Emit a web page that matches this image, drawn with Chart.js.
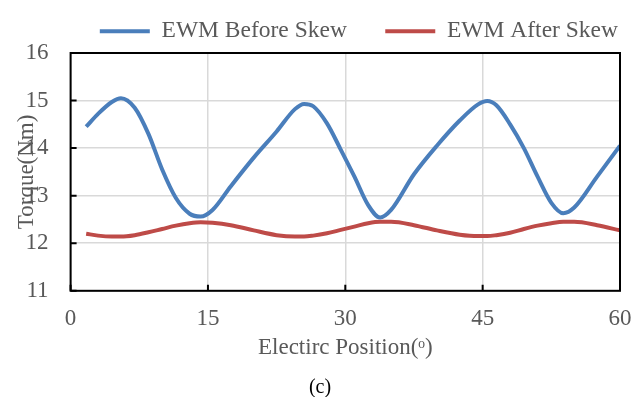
<!DOCTYPE html>
<html>
<head>
<meta charset="utf-8">
<script src="https://cdn.jsdelivr.net/npm/chart.js@4/dist/chart.umd.min.js"></script>
<style>
  html, body { margin: 0; padding: 0; background: #fff; }
  #wrap { width: 643px; height: 397px; }
</style>
</head>
<body>
<div id="wrap"><canvas id="torqueChart" width="643" height="397"></canvas></div>
<script>
// electric position (deg) for every sample
const positions = [1.7, 3, 4.5, 5.5, 7, 8.5, 10, 11.5, 13, 14.2, 15.5, 17.5, 20, 22.5, 24.5, 25.5, 26.5, 28, 29.5, 31, 32.5, 33.8, 35, 37.5, 40, 42.5, 44.5, 45.5, 46.5, 48, 49.5, 51, 52.5, 53.8, 55, 57.5, 60];
const beforeSkew = [14.45, 14.72, 14.97, 15.05, 14.85, 14.3, 13.55, 12.95, 12.62, 12.56, 12.7, 13.2, 13.8, 14.35, 14.82, 14.93, 14.88, 14.52, 13.97, 13.4, 12.8, 12.54, 12.7, 13.45, 14.05, 14.58, 14.92, 14.99, 14.9, 14.5, 14.0, 13.4, 12.85, 12.63, 12.75, 13.4, 14.05];
const afterSkew = [12.2, 12.16, 12.14, 12.14, 12.17, 12.23, 12.3, 12.37, 12.42, 12.44, 12.43, 12.38, 12.27, 12.17, 12.14, 12.14, 12.16, 12.21, 12.28, 12.35, 12.42, 12.45, 12.45, 12.38, 12.27, 12.18, 12.15, 12.15, 12.17, 12.22, 12.3, 12.37, 12.42, 12.45, 12.45, 12.38, 12.27];
const seriesNames = ['EWM Before Skew', 'EWM After Skew'];
const xTicks = [0, 15, 30, 45, 60];
const yTicks = [11, 12, 13, 14, 15, 16];

const FONT = "'Liberation Serif', 'Times New Roman', serif";
const GREY = '#595959';

function toPoints(vals) {
    return vals.map((v, i) => ({ x: positions[i], y: v }));
}

// black box round the plot plus the short inward tick marks
const framePlugin = {
    id: 'frame',
    afterDraw(chart) {
        const { ctx, chartArea: a, scales } = chart;
        ctx.save();
        ctx.strokeStyle = '#000';
        ctx.lineWidth = 2;
        ctx.strokeRect(a.left, a.top, a.right - a.left, a.bottom - a.top);
        ctx.beginPath();
        yTicks.forEach(v => {
            const y = scales.y.getPixelForValue(v);
            ctx.moveTo(a.left, y);
            ctx.lineTo(a.left + 6, y);
        });
        xTicks.forEach(v => {
            const x = scales.x.getPixelForValue(v);
            ctx.moveTo(x, a.bottom);
            ctx.lineTo(x, a.bottom - 6);
        });
        ctx.stroke();
        ctx.restore();
    }
};

const ctx = document.getElementById('torqueChart').getContext('2d');
new Chart(ctx, {
    type: 'line',
    data: {
        datasets: [{
            label: seriesNames[0],
            data: toPoints(beforeSkew),
            borderColor: '#4a7ebb',
            backgroundColor: '#4a7ebb',
            borderWidth: 4,
            pointRadius: 0,
            tension: 0.4,
            cubicInterpolationMode: 'monotone'
        }, {
            label: seriesNames[1],
            data: toPoints(afterSkew),
            borderColor: '#be4b48',
            backgroundColor: '#be4b48',
            borderWidth: 4,
            pointRadius: 0,
            tension: 0.4,
            cubicInterpolationMode: 'monotone'
        }]
    },
    options: {
        responsive: false,
        animation: false,
        layout: { padding: { left: 13, right: 16, top: 1, bottom: -3 } },
        plugins: {
            legend: {
                position: 'top',
                align: 'end',
                labels: {
                    color: GREY,
                    font: { family: FONT, size: 23.5 },
                    boxWidth: 50,
                    boxHeight: 4,
                    padding: 9,
                    generateLabels(chart) {
                        // wider gap after the first entry, as in the figure
                        return Chart.defaults.plugins.legend.labels.generateLabels(chart)
                            .map((l, i) => Object.assign(l, {
                                lineWidth: 0,
                                text: i === 0 ? l.text + '     ' : l.text
                            }));
                    }
                }
            },
            title: {
                display: true,
                position: 'bottom',
                text: '(c)',
                color: '#000',
                font: { family: FONT, size: 20, weight: 'normal' },
                padding: { top: 14, bottom: 0 }
            },
            tooltip: { enabled: false }
        },
        scales: {
            x: {
                type: 'linear',
                min: 0,
                max: 60,
                afterBuildTicks: s => { s.ticks = xTicks.map(v => ({ value: v })); },
                afterFit: s => { s.paddingRight = 23; },
                grid: { color: '#d9d9d9', lineWidth: 1.5, drawTicks: false },
                border: { display: false },
                ticks: { color: GREY, font: { family: FONT, size: 23 }, padding: 14 },
                title: {
                    display: true,
                    text: 'Electirc Position(ᵒ)',
                    color: GREY,
                    font: { family: FONT, size: 23 },
                    padding: { top: -12, bottom: 0 }
                }
            },
            y: {
                min: 11,
                max: 16,
                afterBuildTicks: s => { s.ticks = yTicks.map(v => ({ value: v })); },
                afterFit: s => { s.width -= 21; s.paddingTop = 53; },
                grid: { color: '#d9d9d9', lineWidth: 1.5, drawTicks: false },
                border: { display: false },
                ticks: { color: GREY, font: { family: FONT, size: 23 }, padding: 22 },
                title: {
                    display: true,
                    text: 'Torque(Nm)',
                    color: GREY,
                    font: { family: FONT, size: 23 },
                    padding: { top: 0, bottom: -16 }
                }
            }
        }
    },
    plugins: [framePlugin]
});
</script>
</body>
</html>
